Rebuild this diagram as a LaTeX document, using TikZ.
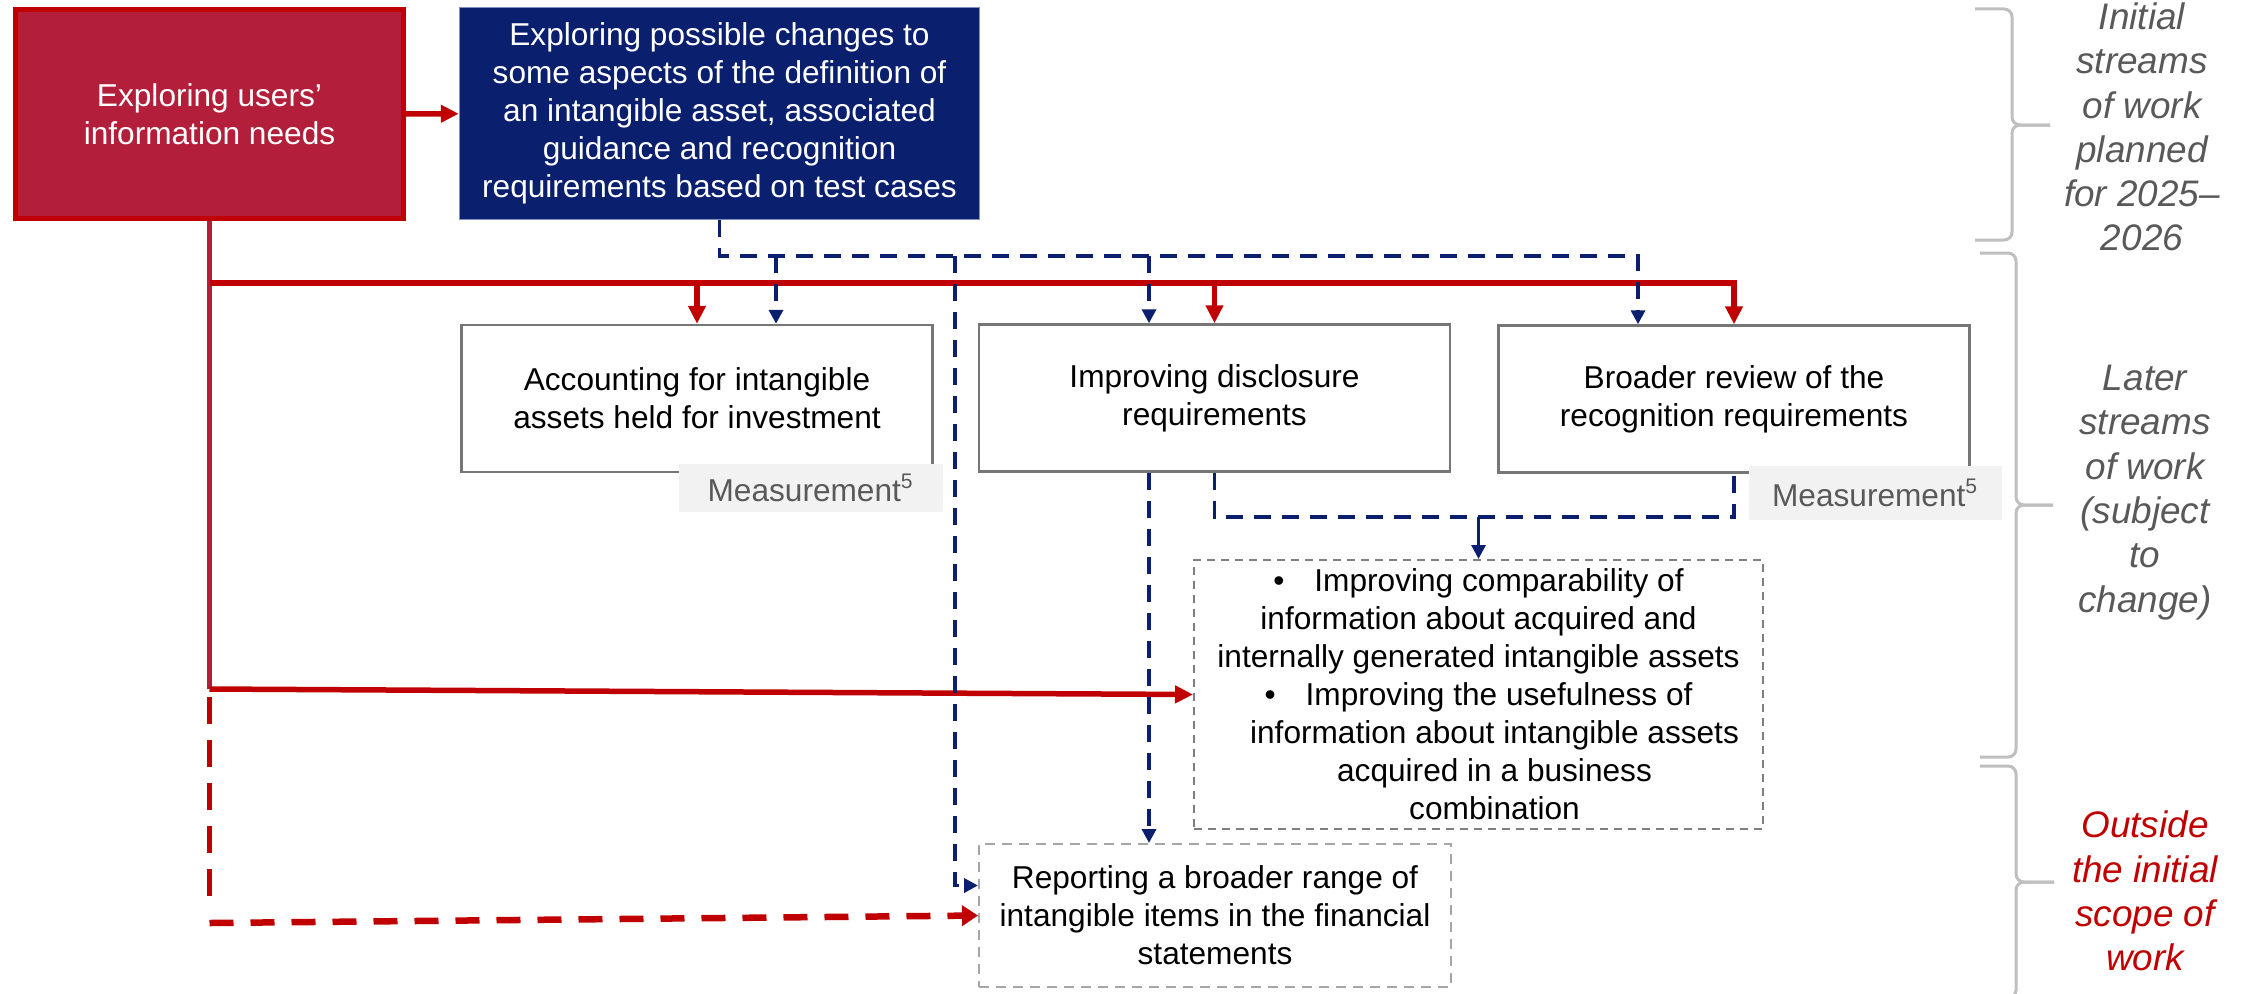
\documentclass[tikz,border=0pt]{standalone}
\usepackage{fontspec}
\setmainfont{Liberation Sans}
\usetikzlibrary{arrows.meta}
\definecolor{ifrsred}{HTML}{C00000}
\definecolor{ifrscrimson}{HTML}{B31F3A}
\definecolor{ifrsnavy}{HTML}{0A1F6E}
\definecolor{navyedge}{HTML}{7F8FC0}
\definecolor{boxgray}{HTML}{767676}
\definecolor{dashgray}{HTML}{7F7F7F}
\definecolor{lightdash}{HTML}{A6A6A6}
\definecolor{notegray}{HTML}{595959}
\definecolor{labelfill}{HTML}{F2F2F2}
\definecolor{bracegray}{HTML}{BFBFBF}
\tikzset{
    basetext/.style={font=\fontsize{9}{10.8}\selectfont, align=center, inner sep=0pt},
    userbox/.style={basetext, fill=ifrscrimson, draw=ifrsred, line width=0.05cm, text=white,
        minimum width=3.88cm, minimum height=2.09cm},
    defbox/.style={basetext, fill=ifrsnavy, draw=navyedge, line width=0.015cm, text=white,
        minimum width=5.2cm, minimum height=2.12cm},
    streambox/.style={basetext, fill=white, draw=boxgray, line width=0.025cm,
        minimum width=4.71cm, minimum height=1.47cm},
    measlabel/.style={basetext, fill=labelfill, text=notegray},
    bulletbox/.style={basetext, draw=dashgray, line width=0.02cm, dash pattern=on 0.08cm off 0.06cm,
        minimum width=5.69cm, minimum height=2.69cm},
    outbox/.style={basetext, draw=lightdash, line width=0.02cm, dash pattern=on 0.1cm off 0.07cm,
        minimum width=4.72cm, minimum height=1.43cm},
    rightnote/.style={font=\fontsize{10.5}{12.6}\selectfont\itshape, align=center, text=notegray, inner sep=0pt},
    redline/.style={draw=ifrsred, line width=0.055cm},
    redarrow/.style={redline, -{Triangle[length=0.18cm,width=0.17cm]}},
    reddash/.style={draw=ifrsred, line width=0.045cm, dash pattern=on 0.27cm off 0.16cm},
    reddasharrow/.style={draw=ifrsred, line width=0.065cm, dash pattern=on 0.24cm off 0.17cm,
        -{Triangle[length=0.16cm,width=0.2cm]}},
    bluedash/.style={draw=ifrsnavy, line width=0.035cm, dash pattern=on 0.17cm off 0.11cm},
    bluearrow/.style={bluedash, -{Triangle[length=0.14cm,width=0.14cm]}},
    bracket/.style={draw=bracegray, line width=0.03cm, rounded corners=0.08cm},
}

\begin{document}
\begin{tikzpicture}
\useasboundingbox (0,0) rectangle (22.44,-9.93);
% first streams
\node[userbox] (users) at (2.095,-1.14) {Exploring users’\\information needs};
\node[defbox] (defn) at (7.195,-1.135) {Exploring possible changes to\\some aspects of the definition of\\an intangible asset, associated\\guidance and recognition\\requirements based on test cases};
% later streams
\node[streambox] (acc) at (6.97,-3.985) {Accounting for intangible\\assets held for investment};
\node[streambox] (disc) at (12.145,-3.98) {Improving disclosure\\requirements};
\node[streambox] (broad) at (17.34,-3.99) {Broader review of the\\recognition requirements};
\node[measlabel, minimum width=2.64cm, minimum height=0.48cm] (meas1) at (8.11,-4.88) {Measurement\textsuperscript{5}};
\node[measlabel, minimum width=2.53cm, minimum height=0.54cm] (meas2) at (18.755,-4.93) {Measurement\textsuperscript{5}};
\node[bulletbox] (bullets) at (14.785,-6.945) {\textbullet\hspace{0.3cm}Improving comparability of\\information about acquired and\\internally generated intangible assets\\\textbullet\hspace{0.3cm}Improving the usefulness of\\\hspace*{0.32cm}information about intangible assets\\\hspace*{0.32cm}acquired in a business\\\hspace*{0.32cm}combination};
% outside scope
\node[outbox] (rep) at (12.15,-9.155) {Reporting a broader range of\\intangible items in the financial\\statements};

% junctions
\coordinate (rb) at (2.095,-2.83);
\coordinate (rj) at (2.095,-6.89);
\coordinate (rd) at (2.095,-6.97);
\coordinate (re) at (2.095,-9.07);
\coordinate (rf) at (2.095,-9.23);
\coordinate (b1) at (7.76,-2.56);
\coordinate (b2) at (9.55,-2.56);
\coordinate (b3) at (11.49,-2.56);
\coordinate (b4) at (16.38,-2.56);
\coordinate (ub) at (14.785,-5.17);

% red connectors
\draw[redarrow] (users) -- (defn);
\draw[draw=ifrscrimson, line width=0.045cm] (users.south) -- (rj);
\draw[redarrow] (rb) -| (broad.north);
\draw[redarrow] (acc.north |- rb) -- (acc.north);
\draw[redarrow] (disc.north |- rb) -- (disc.north);
\draw[redarrow] (rj) -- (bullets.west);
\draw[reddash] (rd) -- (re);
\draw[reddasharrow] (rf) -- (rep.west);

% blue connectors
\draw[bluearrow] (defn.south) |- (b4) -- (b4 |- broad.north);
\draw[bluearrow] (b1) -- (b1 |- acc.north);
\draw[bluearrow] (b3) -- (b3 |- disc.north);
\draw[bluearrow] (b2) |- ([yshift=0.3cm]rep.west);
\draw[bluearrow] (b3 |- disc.south) -- (b3 |- rep.north);
\draw[bluedash] (disc.south) |- (ub) -| (broad.south);
\draw[draw=ifrsnavy, line width=0.03cm, -{Triangle[length=0.14cm,width=0.14cm]}] (ub) -- (bullets.north);

% braces and notes
\draw[bracket] (19.75,-0.09) -| (20.12,-1.25) -- (20.50,-1.25);
\draw[bracket] (20.50,-1.25) -- (20.12,-1.25) |- (19.75,-2.40);
\draw[bracket] (19.80,-2.53) -| (20.16,-5.05) -- (20.53,-5.05);
\draw[bracket] (20.53,-5.05) -- (20.16,-5.05) |- (19.80,-7.57);
\draw[bracket] (19.80,-7.66) -| (20.16,-8.82) -- (20.54,-8.82);
\draw[bracket] (20.54,-8.82) -- (20.16,-8.82) |- (19.80,-9.98);
\node[rightnote] (note1) at (21.42,-1.27) {Initial\\streams\\of work\\planned\\for 2025–\\2026};
\node[rightnote] (note2) at (21.45,-4.925) {Later\\streams\\of work\\(subject\\to\\change)};
\node[rightnote, text=ifrsred] (note3) at (21.45,-8.91) {Outside\\the initial\\scope of\\work};
\end{tikzpicture}
\end{document}
